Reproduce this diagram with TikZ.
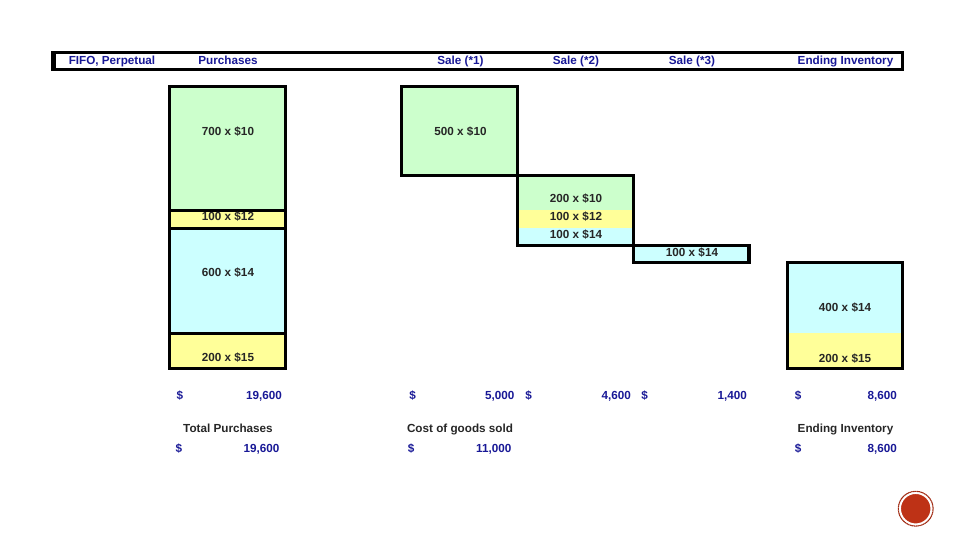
\documentclass[tikz,border=0pt]{standalone}
\usepackage{fontspec}
\setmainfont{Liberation Sans}
\usetikzlibrary{positioning}
\definecolor{lotgreen}{RGB}{204, 255, 204}
\definecolor{lotyellow}{RGB}{255, 255, 153}
\definecolor{lotblue}{RGB}{204, 255, 255}
\definecolor{headblue}{RGB}{24, 24, 150}
\definecolor{badgered}{RGB}{190, 50, 22}
\tikzset{
    lot/.style={rectangle, minimum width=115.8pt, inner sep=0pt, outer sep=0pt,
                draw=black, fill=#1, line width=3pt},
    band/.style={rectangle, minimum width=115.8pt, inner sep=0pt, outer sep=0pt,
                 fill=#1},
    frame/.style={rectangle, draw=black, line width=3pt, inner sep=0pt, outer sep=0pt},
    qty/.style={font=\fontsize{11.7}{13}\selectfont\bfseries, text=black!85, inner sep=0pt,
                text height=8.4pt, text depth=0pt},
    head/.style={font=\fontsize{11.7}{13}\selectfont\bfseries, text=headblue, inner sep=0pt,
                 text height=8.4pt, text depth=0pt},
    total/.style={head, anchor=east},
    sign/.style={head},
    caption/.style={qty},
}

\begin{document}
\begin{tikzpicture}[x=1pt, y=-1pt]
    \useasboundingbox (0,0) rectangle (960,540);
    % header bar
    \node[frame, minimum width=850pt, minimum height=17pt, anchor=north west] (bar) at (52.5,52.5) {};
    \draw[line width=2pt] ([xshift=2pt]bar.north west) -- ([xshift=2pt]bar.south west);
    \node[head] (hfifo) at (112,60.5) {FIFO, Perpetual};
    \node[head] (hpurch) at (228,60.5) {Purchases};
    \node[head] (hsale1) at (460.5,60.5) {Sale (*1)};
    \node[head] (hsale2) at (576,60.5) {Sale (*2)};
    \node[head] (hsale3) at (692,60.5) {Sale (*3)};
    \node[head] (hend) at (845.5,60.5) {Ending Inventory};

    % purchases column
    \node[lot=lotgreen, minimum height=123.5pt, anchor=north west] (pur1) at (169.7,86.5) {};
    \node[lot=lotyellow, minimum height=18pt, below=0pt of pur1] (pur2) {};
    \node[lot=lotblue, minimum height=105.5pt, below=0pt of pur2] (pur3) {};
    \node[lot=lotyellow, minimum height=35pt, below=0pt of pur3] (pur4) {};
    \node[qty] at (228,131) (qpur1) {700 x \$10};
    \node[qty] at (228,216) (qpur2) {100 x \$12};
    \node[qty] at (228,272) (qpur3) {600 x \$14};
    \node[qty] at (228,357) (qpur4) {200 x \$15};

    % sales
    \node[lot=lotgreen, minimum width=116pt, minimum height=89pt, anchor=north west] (sale1) at (401.5,86.5) {};
    \node[band=lotgreen, minimum width=116pt, minimum height=34pt, anchor=north west] (sale2a) at (517.5,175.5) {};
    \node[band=lotyellow, minimum width=116pt, minimum height=18pt, below=0pt of sale2a] (sale2b) {};
    \node[band=lotblue, minimum width=116pt, minimum height=18pt, below=0pt of sale2b] (sale2c) {};
    \node[frame, minimum width=116pt, minimum height=70pt, anchor=north west] (sale2) at (517.5,175.5) {};
    \node[lot=lotblue, minimum width=116pt, minimum height=17pt, anchor=north west] (sale3) at (633.5,245.5) {};
    \draw[line width=2pt] ([xshift=-1.5pt]sale3.north east) -- ([xshift=-1.5pt]sale3.south east);
    \node[qty] at (460.5,131) (qsale1) {500 x \$10};
    \node[qty] at (576,198.5) (qsale2a) {200 x \$10};
    \node[qty] at (576,216) (qsale2b) {100 x \$12};
    \node[qty] at (576,234) (qsale2c) {100 x \$14};
    \node[qty] at (692,252) (qsale3) {100 x \$14};

    % ending inventory
    \node[band=lotblue, minimum width=115pt, minimum height=70.5pt, anchor=north west] (end1) at (787.5,262.5) {};
    \node[band=lotyellow, minimum width=115pt, minimum height=35.5pt, below=0pt of end1] (end2) {};
    \node[frame, minimum width=115pt, minimum height=106pt, anchor=north west] (endf) at (787.5,262.5) {};
    \node[qty] at (845,307) (qend1) {400 x \$14};
    \node[qty] at (845,358) (qend2) {200 x \$15};

    % amounts
    \node[sign] (d1) at (180,395) {\$};
    \node[total] (v1) at (282,395) {19,600};
    \node[sign] (d2) at (412.5,395) {\$};
    \node[total] (v2) at (514.5,395) {5,000};
    \node[sign] (d3) at (528.5,395) {\$};
    \node[total] (v3) at (631,395) {4,600};
    \node[sign] (d4) at (644.5,395) {\$};
    \node[total] (v4) at (747,395) {1,400};
    \node[sign] (d5) at (798,395) {\$};
    \node[total] (v5) at (897,395) {8,600};

    % summary
    \node[caption] (cpur) at (228,428.5) {Total Purchases};
    \node[caption] (ccogs) at (460,428.5) {Cost of goods sold};
    \node[caption] (cend) at (845.5,428.5) {Ending Inventory};
    \node[sign] (s1) at (179,448) {\$};
    \node[total] (t1) at (279.5,448) {19,600};
    \node[sign] (s2) at (411,448) {\$};
    \node[total] (t2) at (511.5,448) {11,000};
    \node[sign] (s3) at (798,448) {\$};
    \node[total] (t3) at (897,448) {8,600};

    % page badge
    \node[circle, fill=badgered, draw=white, line width=1.5pt, minimum size=31pt, inner sep=0pt] (badge) at (915.7,508.7) {};
    \draw[badgered!85!black, line width=1.1pt, dash pattern=on 1.5pt off 0.4pt] (badge.center) circle (17.4pt);
\end{tikzpicture}
\end{document}
